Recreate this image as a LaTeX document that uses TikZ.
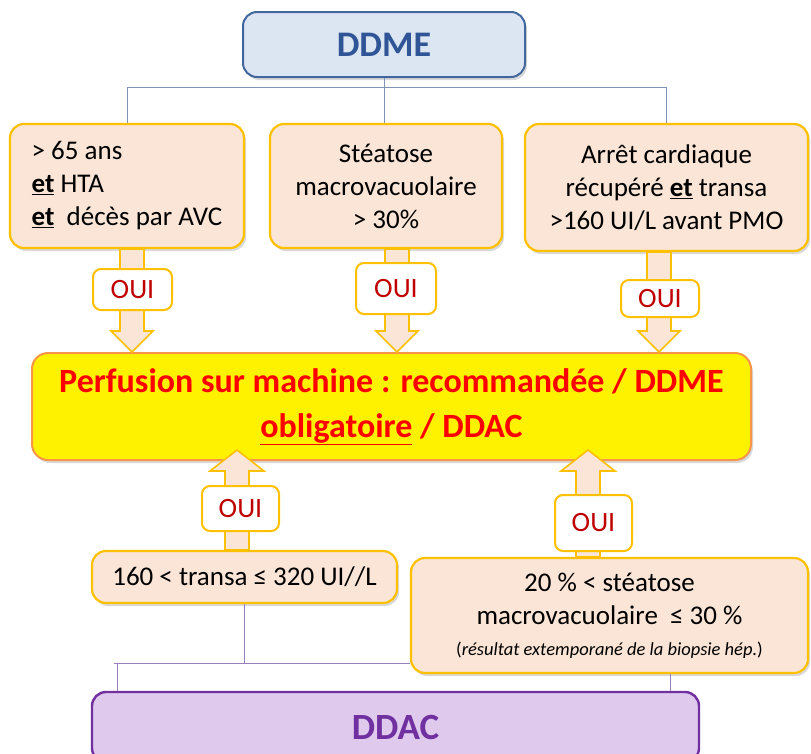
\documentclass[tikz,border=0pt]{standalone}
\usepackage{fontspec}
\setmainfont{Carlito}
\usepackage{tikz}
\usetikzlibrary{calc,shadows,positioning}
\definecolor{peach}{HTML}{FBE5D6}
\definecolor{gold}{HTML}{FFC000}
\definecolor{ddmeblue}{HTML}{2F5597}
\definecolor{ddmefill}{HTML}{DCE6F2}
\definecolor{ddmeedge}{HTML}{41679E}
\definecolor{ddacpurple}{HTML}{7030A0}
\definecolor{ddacfill}{HTML}{DFCAEE}
\definecolor{ouired}{HTML}{C00000}
\definecolor{mainedge}{HTML}{F79646}
\definecolor{lineblue}{HTML}{7F95B8}
\definecolor{linepurple}{HTML}{9A7FBE}
\tikzset{%
	softshadow/.style = {drop shadow={shadow xshift=2pt,shadow yshift=-3pt,opacity=0.3}},
	critbox/.style    = {draw=gold, line width=2.2pt, fill=peach, rounded corners=14pt, softshadow, font=\fontsize{27}{33}\selectfont},
	ouibox/.style     = {draw=gold, line width=2pt, fill=white, rounded corners=8pt, text=ouired, font=\fontsize{28}{33}\selectfont},
	mainbox/.style    = {draw=mainedge, line width=2pt, fill=yellow, rounded corners=16pt, softshadow, text=red, font=\bfseries\fontsize{34}{45}\selectfont},
	ddmebox/.style    = {draw=ddmeedge, line width=2pt, fill=ddmefill, rounded corners=14pt, softshadow, text=ddmeblue, font=\bfseries\fontsize{36}{40}\selectfont},
	ddacbox/.style    = {draw=ddacpurple, line width=2.4pt, fill=ddacfill, rounded corners=14pt, text=ddacpurple, font=\bfseries\fontsize{37}{40}\selectfont},
	ddmeline/.style   = {draw=lineblue, line width=1pt},
	ddacline/.style   = {draw=linepurple, line width=1pt},
	blockarrow/.style = {draw=gold, line width=1.6pt, fill=peach, line join=miter},
}
\newcommand{\fatarrow}[3]{%
	\filldraw[blockarrow] let \p1=(#1), \p2=(#2), \n1={21*sign(\y2-\y1)} in
		({\x1-12pt},\y1) -- ({\x1-12pt},{\y2-\n1}) -- ({\x1-#3},{\y2-\n1}) -- (\x1,\y2)
		-- ({\x1+#3},{\y2-\n1}) -- ({\x1+12pt},{\y2-\n1}) -- ({\x1+12pt},\y1) -- cycle;
}

\begin{document}
\begin{tikzpicture}[x=1pt,y=-1pt]
		\clip[use as bounding box] (0,0) rectangle (811,753);
		
		\node[ddmebox, minimum width=282pt, minimum height=65pt] (ddme) at (384,44.5) {DDME};
		\node[critbox, minimum width=234pt, minimum height=124pt, align=left] (c1) at (127,186) {> 65 ans\\\underline{\textbf{et}} HTA\\\underline{\textbf{et}}\ \ décès par AVC};
		\node[critbox, minimum width=232pt, minimum height=124pt, align=center] (c2) at (386,186) {Stéatose\\macrovacuolaire\\> 30\%};
		\node[critbox, minimum width=283pt, minimum height=127pt, align=center] (c3) at (666.5,187.5) {Arrêt cardiaque\\récupéré \underline{\textbf{et}} transa\\>160 UI/L avant PMO};
		\node[mainbox, minimum width=719pt, minimum height=107pt, align=center] (main) at (391.5,406.5) {Perfusion sur machine : recommandée / DDME\\\underline{obligatoire} / DDAC};
		\node[critbox, minimum width=305pt, minimum height=52pt] (t4) at (244.5,577) {160 < transa ≤ 320 UI//L};
		\node[critbox, minimum width=397pt, minimum height=115pt, align=center] (t5) at (609.5,615.5) {20 \% < stéatose\\macrovacuolaire \ ≤ 30 \%\\[-2pt]{\fontsize{18.5}{21}\selectfont (\textit{résultat extemporané de la biopsie hép.})}};
		\node[ddacbox, minimum width=607pt, minimum height=70pt] (ddac) at (395.5,727) {DDAC};
		
		\coordinate (bus) at (0,87);
		\draw[ddmeline] (ddme.south) -- (ddme.south |- c2.north);
		\draw[ddmeline] (c1.north) |- (c3.north |- bus) -- (c3.north);
		
		\coordinate (pbus) at (114,663);
		\coordinate (pleft) at (117,663);
		\coordinate (pright) at (670,663);
		\draw[ddacline] (t4.south) -- (t4.south |- pbus);
		\draw[ddacline] (pbus) -- (pbus -| t5.west);
		\draw[ddacline] (pleft) -- (pleft |- ddac.north);
		\draw[ddacline] (t5.south -| pright) -- (ddac.north -| pright);
		
		\coordinate (ax1) at (132,0);
		\coordinate (ax2) at (397,0);
		\coordinate (ax3) at (659,0);
		\coordinate (ax4) at (237,0);
		\coordinate (ax5) at (588,0);
		\coordinate (tip4) at ($(main.south -| ax4)+(0,-11)$);
		\coordinate (tip5) at ($(main.south -| ax5)+(0,-11)$);
		\fatarrow{c1.south -| ax1}{main.north -| ax1}{21pt}
		\fatarrow{c2.south -| ax2}{main.north -| ax2}{21pt}
		\fatarrow{c3.south -| ax3}{main.north -| ax3}{21pt}
		\fatarrow{t4.north -| ax4}{tip4}{27pt}
		\fatarrow{t5.north -| ax5}{tip5}{27pt}
		
		\node[ouibox, minimum width=79pt, minimum height=41pt] (o1) at (132.5,289.5) {OUI};
		\node[ouibox, minimum width=80pt, minimum height=51pt] (o2) at (396,288.5) {OUI};
		\node[ouibox, minimum width=78pt, minimum height=37pt] (o3) at (660,298.5) {OUI};
		\node[ouibox, minimum width=77pt, minimum height=45pt] (o4) at (240.5,508.5) {OUI};
		\node[ouibox, minimum width=77pt, minimum height=56pt] (o5) at (593.5,523) {OUI};
		
\end{tikzpicture}
\end{document}
